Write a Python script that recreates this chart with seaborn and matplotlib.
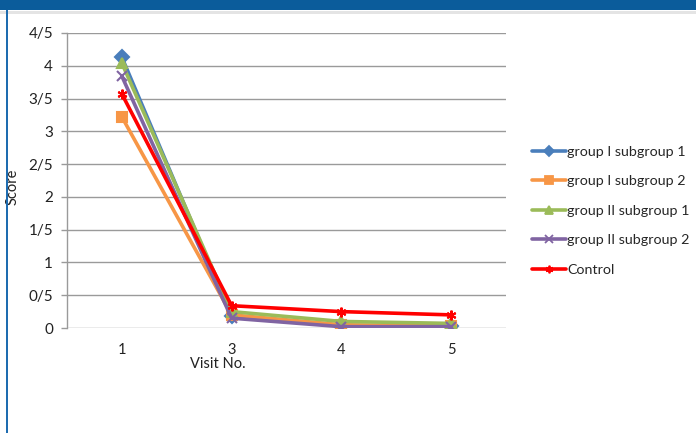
import matplotlib
matplotlib.use("Agg")
import matplotlib.pyplot as plt
from matplotlib.patches import Rectangle
from matplotlib.lines import Line2D
import seaborn as sns
import pandas as pd

visits = ["1", "3", "4", "5"]
group1_sub1 = [4.13, 0.18, 0.03, 0.03]
group1_sub2 = [3.22, 0.20, 0.05, 0.03]
group2_sub1 = [4.04, 0.25, 0.10, 0.07]
group2_sub2 = [3.84, 0.15, 0.02, 0.02]
control = [3.57, 0.34, 0.25, 0.20]

series_names = ["group I subgroup 1", "group I subgroup 2", "group II subgroup 1",
                "group II subgroup 2", "Control"]
series_values = [group1_sub1, group1_sub2, group2_sub1, group2_sub2, control]
y_ticks = [0, 0.5, 1, 1.5, 2, 2.5, 3, 3.5, 4, 4.5]
y_tick_labels = ["0", "0/5", "1", "1/5", "2", "2/5", "3", "3/5", "4", "4/5"]

colors = {
    "group I subgroup 1": "#4A7EBB",
    "group I subgroup 2": "#F79646",
    "group II subgroup 1": "#9BBB59",
    "group II subgroup 2": "#8064A2",
    "Control": "#FF0000",
}
markers = {
    "group I subgroup 1": "D",
    "group I subgroup 2": "s",
    "group II subgroup 1": "^",
    "group II subgroup 2": "x",
    "Control": (6, 2, 0),
}

rows = []
for name, vals in zip(series_names, series_values):
    for v, val in zip(visits, vals):
        rows.append({"Visit No.": v, "Score": val, "Series": name})
df = pd.DataFrame(rows)

sns.set_theme(style="white")
plt.rcParams["font.family"] = ["Lato", "DejaVu Sans"]

fig = plt.figure(figsize=(6.96, 4.33), dpi=100)
ax = fig.add_axes([67 / 696, 1 - 328 / 433, (506 - 67) / 696, (328 - 33) / 433])

# header band and left frame line
fig.patches.append(Rectangle((0, 1 - 10 / 433), 1, 10 / 433, transform=fig.transFigure,
                             facecolor="#0B5C9B", edgecolor="none", zorder=0))
fig.patches.append(Rectangle((0, 1 - 14 / 433), 1, 3 / 433, transform=fig.transFigure,
                             facecolor="#E4E4E4", edgecolor="none", zorder=0))
fig.patches.append(Rectangle((6 / 696, 0), 2 / 696, 1 - 10 / 433, transform=fig.transFigure,
                             facecolor="#1E6CB0", edgecolor="none", zorder=0))

for name in series_names:
    sub = df[df["Series"] == name]
    sns.lineplot(data=sub, x="Visit No.", y="Score", ax=ax, color=colors[name],
                 marker=markers[name], markersize=7, markeredgewidth=1.5,
                 markeredgecolor=colors[name], linewidth=2.6, sort=False, legend=False)

ax.set_xlim(-0.5, len(visits) - 0.5)
ax.set_ylim(0, 4.5)
ax.set_yticks(y_ticks)
ax.set_yticklabels(y_tick_labels)
ax.yaxis.grid(True, color="#9A9A9A", linewidth=1)
ax.xaxis.grid(False)
for side in ["top", "right", "bottom"]:
    ax.spines[side].set_visible(False)
ax.spines["left"].set_color("#9A9A9A")
ax.spines["left"].set_linewidth(1)
ax.tick_params(axis="y", left=True, length=4, width=1, color="#9A9A9A",
               labelsize=11, pad=6, labelcolor="#222222")
ax.tick_params(axis="x", bottom=False, labelsize=10.5, pad=5, labelcolor="#222222")
ax.set_ylabel("Score", fontsize=10.5, color="#222222")
ax.yaxis.set_label_coords(-0.108, 0.48)
ax.set_xlabel("Visit No.", fontsize=10.5, color="#222222")
ax.xaxis.set_label_coords((218 - 67) / (506 - 67), -0.1)
ax.xaxis.label.set_va("top")

handles = [Line2D([0], [0], color=colors[n], marker=markers[n], markersize=5.5,
                  markeredgewidth=1.3, linewidth=2.6) for n in series_names]
fig.legend(handles, series_names, loc="upper left",
           bbox_to_anchor=(526 / 696, 1 - 140 / 433), frameon=False,
           fontsize=10.3, handlelength=2.4, handletextpad=0.1, labelspacing=1.22,
           borderaxespad=0)

fig.savefig("out.png", dpi=100)
